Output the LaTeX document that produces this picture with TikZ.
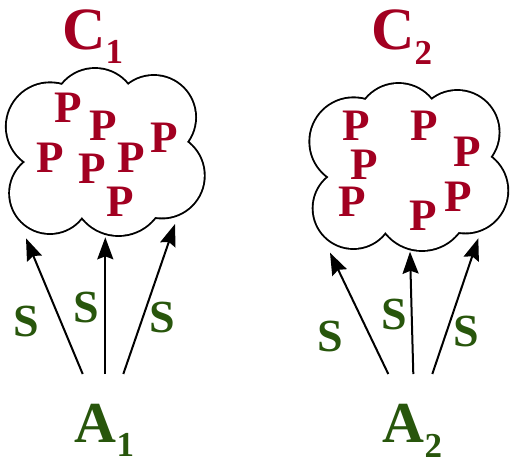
\documentclass[tikz,border=0pt]{standalone}
\usepackage{fontspec}
\setmainfont{Liberation Serif}
\usetikzlibrary{arrows.meta}
\definecolor{pred}{RGB}{162,0,33}
\definecolor{sgreen}{RGB}{40,86,12}
\newcommand\mycloud{%
  \draw[line width=3.8pt]
    (95,111) circle[radius=42pt]
    (153.8,117.3) circle[radius=41.3pt]
    (161.9,175.6) circle[radius=41.9pt]
    (118.5,189) circle[radius=46pt]
    (49.9,193.2) circle[radius=39.8pt]
    (50.1,126.6) circle[radius=43.3pt];
  \fill[white]
    (95,111) circle[radius=42pt]
    (153.8,117.3) circle[radius=41.3pt]
    (161.9,175.6) circle[radius=41.9pt]
    (118.5,189) circle[radius=46pt]
    (49.9,193.2) circle[radius=39.8pt]
    (50.1,126.6) circle[radius=43.3pt];
  \fill[white] (62,85) -- (128,85) -- (187,142) -- (155,217) -- (82,217) -- (25,162) -- cycle;
}
\begin{document}
\begin{tikzpicture}[x=1pt,y=-1pt,
  plab/.style={text=pred,font=\bfseries\fontsize{45}{46}\selectfont,inner sep=0pt,anchor=base},
  slab/.style={text=sgreen,font=\bfseries\fontsize{46}{47}\selectfont,inner sep=0pt,anchor=base},
  clab/.style={text=pred,font=\bfseries\fontsize{60}{62}\selectfont,inner sep=0pt,anchor=base west},
  alab/.style={text=sgreen,font=\bfseries\fontsize{58}{60}\selectfont,inner sep=0pt,anchor=base west},
  arr/.style={-{Stealth[length=22pt,width=16pt,inset=3pt]},line width=2pt}]
\useasboundingbox (0,0) rectangle (516,466);
% clouds
\begin{scope}\mycloud\end{scope}
\begin{scope}[shift={(303.5,15)}]\mycloud\end{scope}
\coordinate (cloud1) at (105,155);
\coordinate (cloud2) at (408,170);
% titles
\node[clab] (C1) at (62,49.5) {C\raisebox{-14pt}{\fontsize{35}{36}\selectfont 1}};
\node[clab] (C2) at (371,49.5) {C\raisebox{-15pt}{\fontsize{35}{36}\selectfont 2}};
\node[alab] (A1) at (74.5,442) {A\raisebox{-14pt}{\fontsize{35}{36}\selectfont 1}};
\node[alab] (A2) at (382.5,442) {A\raisebox{-15pt}{\fontsize{35}{36}\selectfont 2}};
% P in cloud 1
\node[plab] (p11) at (68.5,122) {P};
\node[plab] (p12) at (103.5,140) {P};
\node[plab] (p13) at (164,152) {P};
\node[plab] (p14) at (50.5,172) {P};
\node[plab] (p15) at (92.5,183) {P};
\node[plab] (p16) at (131.5,172) {P};
\node[plab] (p17) at (120.5,216) {P};
% P in cloud 2
\node[plab] (p21) at (356,140) {P};
\node[plab] (p22) at (424,140) {P};
\node[plab] (p23) at (467.5,166) {P};
\node[plab] (p24) at (364,179) {P};
\node[plab] (p25) at (352.5,216.5) {P};
\node[plab] (p26) at (458.5,211) {P};
\node[plab] (p27) at (423.5,230) {P};
% arrows
\coordinate (a1s) at (82.7,374);  \coordinate (a1t) at (26,238.3);
\coordinate (a2s) at (105.3,374); \coordinate (a2t) at (105.3,237.3);
\coordinate (a3s) at (123.3,374); \coordinate (a3t) at (175,224);
\coordinate (a4s) at (388.3,374); \coordinate (a4t) at (330,252.7);
\coordinate (a5s) at (413.3,374); \coordinate (a5t) at (410,251.7);
\coordinate (a6s) at (432.3,374); \coordinate (a6t) at (478.3,238.3);
\draw[arr] (a1s) -- (a1t);
\draw[arr] (a2s) -- (a2t);
\draw[arr] (a3s) -- (a3t);
\draw[arr] (a4s) -- (a4t);
\draw[arr] (a5s) -- (a5t);
\draw[arr] (a6s) -- (a6t);
% S labels
\node[slab] (s1) at (26.5,336.6) {S};
\node[slab] (s2) at (86,322.6) {S};
\node[slab] (s3) at (162,332.6) {S};
\node[slab] (s4) at (330,351.6) {S};
\node[slab] (s5) at (394,329.6) {S};
\node[slab] (s6) at (466,346.6) {S};
\end{tikzpicture}
\end{document}
